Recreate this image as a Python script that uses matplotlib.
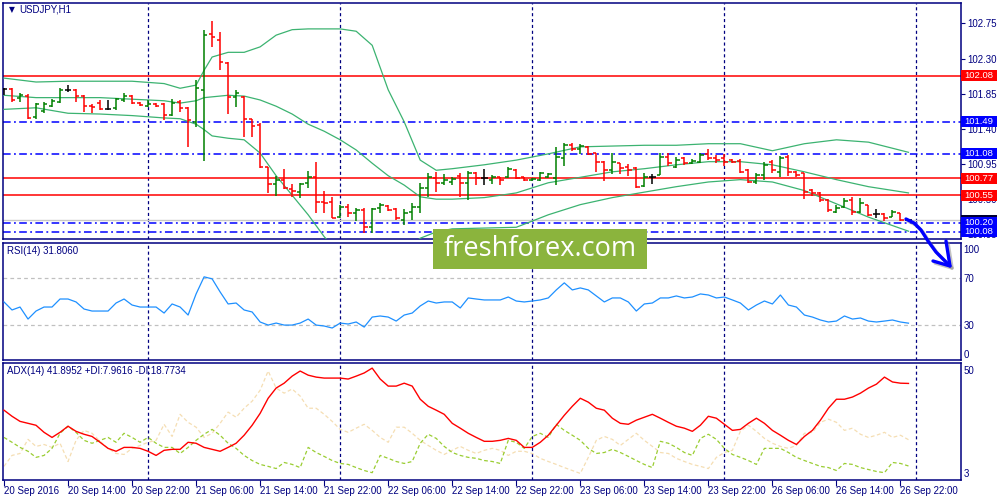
import matplotlib
matplotlib.use('Agg')
import matplotlib.pyplot as plt
import matplotlib.transforms as mtrans
import matplotlib.patheffects as pe
from matplotlib.patches import Rectangle
from matplotlib.lines import Line2D

# USDJPY H1 bars, 20 Sep 06:00 .. 26 Sep 23:00
opens = [101.91, 101.91, 101.80, 101.82, 101.55, 101.63, 101.69, 101.74, 101.90, 101.90,
         101.82, 101.69, 101.73, 101.65, 101.67, 101.77, 101.82, 101.73, 101.69, 101.72,
         101.72, 101.58, 101.74, 101.67, 101.49, 101.90, 102.61, 102.54, 102.24, 101.81,
         101.81, 101.53, 101.45, 100.91, 100.69, 100.75, 100.63, 100.59, 100.71, 100.78,
         100.46, 100.46, 100.27, 100.40, 100.32, 100.36, 100.14, 100.39, 100.41, 100.38,
         100.23, 100.34, 100.40, 100.64, 100.77, 100.71, 100.72, 100.80, 100.71, 100.84,
         100.77, 100.75, 100.78, 100.78, 100.87, 100.78, 100.75, 100.75, 100.78, 100.77,
         101.03, 101.19, 101.14, 101.17, 101.09, 100.98, 100.87, 100.96, 100.91, 100.90,
         100.67, 100.78, 100.81, 101.04, 100.91, 101.03, 100.96, 100.98, 101.08, 101.03,
         101.03, 101.00, 100.99, 100.87, 100.72, 100.81, 100.98, 100.85, 101.04, 100.85,
         100.84, 100.62, 100.58, 100.49, 100.34, 100.40, 100.49, 100.34, 100.43, 100.31,
         100.31, 100.27, 100.32, 100.23]
highs = [101.92, 101.92, 101.86, 101.85, 101.73, 101.74, 101.78, 101.92, 101.96, 101.91,
         101.83, 101.72, 101.77, 101.77, 101.80, 101.86, 101.83, 101.74, 101.77, 101.73,
         101.73, 101.78, 101.77, 101.68, 102.03, 102.67, 102.78, 102.64, 102.26, 101.90,
         101.82, 101.53, 101.48, 100.91, 100.80, 100.89, 100.69, 100.71, 100.86, 100.98,
         100.60, 100.53, 100.43, 100.44, 100.39, 100.39, 100.39, 100.45, 100.43, 100.39,
         100.37, 100.45, 100.71, 100.84, 100.85, 100.82, 100.78, 100.84, 100.86, 100.85,
         100.89, 100.81, 100.78, 100.91, 100.89, 100.78, 100.77, 100.85, 100.84, 101.17,
         101.22, 101.22, 101.21, 101.18, 101.09, 100.99, 101.09, 100.96, 100.95, 100.91,
         100.84, 100.82, 101.09, 101.09, 101.04, 101.04, 101.01, 101.09, 101.14, 101.07,
         101.08, 101.01, 101.01, 100.89, 100.84, 100.98, 101.00, 101.05, 101.07, 100.86,
         100.84, 100.63, 100.59, 100.50, 100.43, 100.52, 100.53, 100.52, 100.43, 100.37,
         100.32, 100.36, 100.32, 100.24]
lows = [101.83, 101.74, 101.74, 101.53, 101.53, 101.60, 101.68, 101.73, 101.87, 101.74,
        101.62, 101.60, 101.64, 101.64, 101.64, 101.74, 101.72, 101.69, 101.68, 101.68,
        101.51, 101.57, 101.62, 101.17, 101.42, 100.99, 102.45, 102.15, 101.59, 101.68,
        101.30, 101.30, 100.90, 100.58, 100.54, 100.63, 100.53, 100.52, 100.64, 100.32,
        100.32, 100.26, 100.26, 100.27, 100.22, 100.07, 100.07, 100.32, 100.35, 100.23,
        100.17, 100.23, 100.32, 100.53, 100.59, 100.68, 100.68, 100.53, 100.49, 100.68,
        100.68, 100.70, 100.68, 100.77, 100.76, 100.73, 100.73, 100.73, 100.77, 100.68,
        100.93, 101.12, 101.08, 101.07, 100.85, 100.73, 100.82, 100.82, 100.80, 100.64,
        100.66, 100.70, 100.81, 100.93, 100.90, 100.94, 100.95, 100.96, 101.00, 100.96,
        100.93, 100.96, 100.84, 100.71, 100.69, 100.75, 100.84, 100.78, 100.80, 100.78,
        100.50, 100.54, 100.46, 100.34, 100.32, 100.39, 100.30, 100.32, 100.29, 100.26,
        100.22, 100.27, 100.22, 100.22]
closes = [101.91, 101.77, 101.83, 101.54, 101.72, 101.72, 101.76, 101.90, 101.90, 101.82,
          101.69, 101.68, 101.65, 101.65, 101.78, 101.82, 101.73, 101.71, 101.72, 101.69,
          101.58, 101.73, 101.67, 101.51, 101.92, 102.60, 102.58, 102.26, 101.81, 101.86,
          101.53, 101.44, 100.91, 100.69, 100.75, 100.64, 100.60, 100.69, 100.78, 100.46,
          100.45, 100.26, 100.40, 100.32, 100.36, 100.14, 100.37, 100.43, 100.36, 100.26,
          100.32, 100.40, 100.64, 100.78, 100.71, 100.75, 100.76, 100.71, 100.84, 100.77,
          100.77, 100.78, 100.75, 100.89, 100.77, 100.75, 100.76, 100.84, 100.82, 101.04,
          101.19, 101.14, 101.18, 101.08, 100.98, 100.87, 100.98, 100.90, 100.87, 100.66,
          100.78, 100.78, 101.04, 100.96, 101.00, 100.96, 100.99, 101.07, 101.03, 101.00,
          100.98, 100.98, 100.85, 100.72, 100.81, 100.94, 100.87, 101.03, 100.85, 100.81,
          100.59, 100.58, 100.49, 100.36, 100.39, 100.48, 100.34, 100.45, 100.30, 100.31,
          100.26, 100.34, 100.23, 100.23]

# Bollinger bands read at these bar numbers
band_idx = [0, 4, 8, 12, 16, 20, 22, 24, 25, 26, 28, 30, 32, 34, 36, 38, 40, 42, 44, 46,
            48, 50, 52, 54, 56, 60, 64, 68, 72, 76, 80, 84, 88, 92, 96, 100, 104, 108, 113]
band_up = [102.05, 102.00, 102.01, 102.01, 102.01, 101.98, 101.92, 101.96, 102.15, 102.32,
           102.38, 102.38, 102.45, 102.60, 102.67, 102.68, 102.68, 102.68, 102.65, 102.47,
           101.90, 101.49, 101.00, 100.87, 100.89, 100.94, 101.00, 101.08, 101.17, 101.18,
           101.19, 101.19, 101.21, 101.21, 101.12, 101.21, 101.26, 101.23, 101.10]
band_mid = [101.83, 101.80, 101.80, 101.80, 101.78, 101.76, 101.73, 101.76, 101.80, 101.81,
            101.83, 101.82, 101.77, 101.69, 101.59, 101.46, 101.37, 101.26, 101.13, 100.96,
            100.80, 100.68, 100.53, 100.50, 100.50, 100.52, 100.58, 100.71, 100.78, 100.85,
            100.89, 100.94, 100.98, 100.98, 100.94, 100.85, 100.75, 100.66, 100.58]
band_low = [101.65, 101.67, 101.60, 101.59, 101.57, 101.54, 101.53, 101.46, 101.39, 101.31,
            101.28, 101.26, 101.09, 100.80, 100.55, 100.30, 100.02, 99.79, 99.70, 99.65,
            99.70, 99.82, 100.00, 100.08, 100.12, 100.13, 100.14, 100.30, 100.43, 100.52,
            100.59, 100.66, 100.72, 100.75, 100.72, 100.61, 100.44, 100.27, 100.09]

rsi = [49.8, 43.0, 45.5, 35.3, 42.1, 45.5, 45.5, 52.3, 52.3, 49.8,
       43.8, 42.1, 42.1, 42.1, 48.9, 52.3, 47.2, 45.5, 45.5, 45.5,
       40.4, 48.1, 45.5, 38.7, 56.6, 71.1, 69.4, 58.3, 48.1, 48.9,
       43.0, 41.3, 32.8, 30.2, 31.9, 30.2, 30.2, 31.9, 35.3, 30.2,
       29.4, 27.7, 31.9, 31.1, 32.8, 28.5, 37.0, 37.9, 37.0, 33.6,
       38.7, 40.4, 46.4, 50.6, 48.9, 49.8, 49.8, 44.7, 53.2, 52.3,
       51.5, 51.5, 51.5, 54.0, 50.6, 49.8, 50.6, 51.5, 53.2, 60.0,
       66.0, 60.0, 61.7, 60.0, 54.9, 49.8, 53.2, 53.2, 49.8, 42.1,
       48.1, 48.9, 53.2, 53.2, 54.9, 53.2, 54.0, 56.6, 55.7, 53.2,
       54.0, 51.5, 48.9, 43.0, 47.2, 50.6, 48.1, 55.7, 47.2, 45.5,
       38.7, 37.0, 34.5, 32.8, 33.6, 37.9, 35.3, 36.2, 33.6, 32.8,
       33.6, 34.5, 32.8, 31.81]

adx = [30.9, 28.4, 26.3, 25.5, 24.7, 21.8, 19.7, 21.8, 24.3, 22.2,
       21.0, 20.1, 17.7, 15.2, 14.0, 15.6, 15.6, 15.2, 14.0, 12.3,
       14.4, 14.8, 14.8, 17.7, 17.3, 15.6, 14.8, 14.0, 15.6, 17.3,
       20.6, 24.7, 29.6, 35.8, 40.0, 42.0, 44.9, 47.0, 45.3, 44.5,
       44.1, 44.1, 44.1, 43.7, 44.9, 46.2, 48.2, 43.7, 40.8, 40.8,
       42.0, 40.8, 35.4, 32.5, 30.9, 29.2, 25.5, 23.5, 21.4, 19.7,
       18.1, 18.1, 18.5, 19.3, 18.5, 15.6, 15.6, 17.7, 20.6, 24.7,
       28.8, 32.5, 35.8, 34.2, 31.7, 30.9, 27.6, 25.5, 25.1, 26.8,
       28.0, 29.2, 27.6, 25.9, 24.3, 23.5, 22.2, 24.7, 28.4, 27.6,
       25.1, 22.6, 23.0, 25.5, 27.6, 25.5, 22.6, 20.6, 18.5, 16.8,
       20.1, 22.6, 26.8, 31.7, 35.4, 35.4, 36.3, 37.9, 40.0, 41.6,
       44.5, 42.5, 42.0, 41.9]
plus_di = [19.7, 17.7, 15.6, 14.0, 11.5, 12.3, 15.2, 21.4, 24.3, 21.8,
           18.5, 17.3, 18.5, 19.7, 17.7, 21.4, 19.7, 17.7, 19.7, 17.3,
           15.6, 15.6, 13.1, 15.6, 18.5, 21.0, 23.0, 20.6, 17.3, 15.2,
           12.3, 10.2, 8.6, 7.8, 6.9, 9.4, 8.6, 7.3, 15.6, 13.5,
           11.9, 10.2, 9.0, 8.6, 7.3, 6.1, 5.2, 12.3, 11.1, 9.8,
           9.0, 9.8, 17.3, 21.0, 19.3, 16.0, 13.5, 12.3, 11.5, 11.1,
           10.2, 9.8, 9.0, 18.5, 17.7, 15.2, 20.1, 21.4, 19.7, 25.1,
           22.6, 20.6, 18.5, 15.2, 13.1, 13.5, 14.8, 13.5, 11.9, 10.2,
           8.6, 7.3, 18.1, 17.3, 15.6, 13.5, 12.3, 19.3, 21.0, 18.9,
           15.2, 12.7, 11.5, 10.2, 8.6, 15.2, 15.2, 15.2, 13.5, 11.5,
           10.2, 9.0, 7.8, 7.3, 6.1, 9.0, 8.6, 7.3, 6.5, 5.7,
           5.2, 9.4, 9.0, 7.96]
minus_di = [7.8, 12.3, 13.1, 18.9, 16.0, 16.8, 15.6, 17.3, 9.8, 18.5,
            22.6, 21.4, 18.1, 15.2, 13.1, 12.7, 15.2, 16.4, 17.7, 18.5,
            25.1, 20.1, 29.2, 25.9, 23.9, 19.7, 21.4, 25.5, 30.1, 28.0,
            31.7, 34.6, 39.1, 47.0, 40.0, 37.9, 39.6, 36.7, 31.7, 31.7,
            29.2, 26.3, 23.0, 21.8, 23.5, 25.1, 22.6, 19.7, 17.7, 23.9,
            23.9, 21.4, 18.5, 16.4, 14.4, 12.7, 14.4, 16.0, 14.4, 13.1,
            14.4, 15.2, 14.4, 12.3, 14.0, 14.0, 13.1, 11.1, 9.8, 8.6,
            7.3, 6.1, 4.9, 11.5, 18.5, 20.1, 18.9, 16.4, 18.9, 21.4,
            18.5, 16.0, 13.5, 13.1, 11.1, 9.8, 8.6, 7.8, 6.9, 11.5,
            13.5, 14.4, 22.2, 24.7, 22.2, 19.3, 17.3, 16.0, 15.2, 16.4,
            21.4, 21.8, 25.9, 27.2, 25.9, 22.6, 23.5, 21.0, 19.7, 20.6,
            21.8, 19.7, 20.6, 18.77]

red_levels = [102.08, 100.77, 100.55]
blue_levels = [101.49, 101.08, 100.20, 100.08]
bid = 100.23
price_ticks = [102.75, 102.30, 101.85, 101.40, 100.95, 100.50, 100.05]
day_breaks = [18, 42, 66, 90, 114]
time_idx = [0, 8, 16, 24, 32, 40, 48, 56, 64, 72, 80, 88, 96, 104, 112]
time_labels = ['20 Sep 2016', '20 Sep 14:00', '20 Sep 22:00', '21 Sep 06:00', '21 Sep 14:00',
               '21 Sep 22:00', '22 Sep 06:00', '22 Sep 14:00', '22 Sep 22:00', '23 Sep 06:00',
               '23 Sep 14:00', '23 Sep 22:00', '26 Sep 06:00', '26 Sep 14:00', '26 Sep 22:00']

NAVY = '#000080'
plt.rcParams['font.family'] = ['Liberation Sans', 'DejaVu Sans']

fig = plt.figure(figsize=(10, 5), dpi=100)
fig.patch.set_facecolor('white')


def panel(l, t, r, b):
    ax = fig.add_axes([l / 1000, 1 - b / 500, (r - l) / 1000, (b - t) / 500])
    for s in ax.spines.values():
        s.set_color(NAVY)
        s.set_linewidth(1.1)
    ax.set_xlim(-0.125, 119.5)
    ax.yaxis.tick_right()
    ax.tick_params(axis='y', colors=NAVY, labelcolor=NAVY, labelsize=7, length=3, width=0.8, pad=2)
    ax.tick_params(axis='x', bottom=False, labelbottom=False)
    for d in day_breaks:
        ax.axvline(d, color=NAVY, lw=0.9, dashes=(2.5, 2.2), zorder=1)
    return ax


main = panel(3, 2.5, 960.5, 239)
ax_rsi = panel(3, 243, 960.5, 359.5)
ax_adx = panel(3, 363, 960.5, 479.5)

# ---- main price panel
main.set_ylim(99.99, 103.018)
main.set_yticks(price_ticks)
main.set_yticklabels([f'{p:.2f}' for p in price_ticks])

for lv in red_levels:
    main.axhline(lv, color='#FF0000', lw=1.1, zorder=2)
for lv in blue_levels:
    main.axhline(lv, color='#0000FF', lw=1.1, dashes=(5, 2.2, 1.2, 2.2), zorder=2)
main.axhline(bid, color='#C8C8C8', lw=1.0, zorder=1.5)

main.plot(band_idx, band_up, color='#3CB371', lw=0.9, zorder=3)
main.plot(band_idx, band_mid, color='#3CB371', lw=0.9, zorder=3)
main.plot(band_idx, band_low, color='#3CB371', lw=0.9, zorder=3)

xs = list(range(len(opens)))
cols = []
for o, c in zip(opens, closes):
    if c > o:
        cols.append('#008000')
    elif c < o:
        cols.append('#FF0000')
    else:
        cols.append('#000000')
main.vlines(xs, lows, highs, colors=cols, lw=1.1, zorder=4)
main.hlines(opens, [x - 0.42 for x in xs], xs, colors=cols, lw=1.1, zorder=4)
main.hlines(closes, xs, [x + 0.42 for x in xs], colors=cols, lw=1.1, zorder=4)

# price labels on the right axis
blend = mtrans.blended_transform_factory(main.transAxes, main.transData)
box_w = 36 / 957.5
box_h = 11.0 / 78.1
tags = [(bid, '#000033')] + [(p, '#FF0000') for p in red_levels] + [(p, '#0000FF') for p in blue_levels]
for p, c in tags:
    main.add_patch(Rectangle((1.0006, p - box_h / 2), box_w, box_h, transform=blend,
                             facecolor=c, edgecolor='none', clip_on=False, zorder=6))
for p, c in tags[1:]:
    main.text(1.0006 + box_w / 2, p, f'{p:.2f}', transform=blend, ha='center', va='center',
              color='white', fontsize=6.8, clip_on=False, zorder=7)

main.text(0.0065, 0.972, '\u25BC', transform=main.transAxes, fontsize=5.5, color=NAVY,
          family=['DejaVu Sans'], va='center', ha='left')
main.text(0.0165, 0.972, 'USDJPY,H1', transform=main.transAxes, fontsize=7, color=NAVY,
          va='center', ha='left')

# ---- RSI panel
ax_rsi.set_ylim(1.0, 99.8)
ax_rsi.set_yticks([95, 70, 30, 6])
ax_rsi.set_yticklabels(['100', '70', '30', '0'])
ax_rsi.tick_params(axis='y', length=0)
ax_rsi.axhline(70, color='#C0C0C0', lw=0.9, dashes=(3, 2.5), zorder=1)
ax_rsi.axhline(30, color='#C0C0C0', lw=0.9, dashes=(3, 2.5), zorder=1)
ax_rsi.plot(xs, rsi, color='#1E90FF', lw=0.9, zorder=3)
ax_rsi.text(0.004, 0.93, 'RSI(14) 31.8060', transform=ax_rsi.transAxes, fontsize=7,
            color=NAVY, va='center', ha='left')

# ---- ADX panel
ax_adx.set_ylim(2.4, 50.3)
ax_adx.set_yticks([47.5, 5.0])
ax_adx.set_yticklabels(['50', '3'])
ax_adx.tick_params(axis='y', length=0)
ax_adx.plot(xs, minus_di, color='#F5DEB3', lw=0.9, dashes=(3, 2), zorder=2)
ax_adx.plot(xs, plus_di, color='#9ACD32', lw=0.9, dashes=(3, 2), zorder=2)
ax_adx.plot(xs, adx, color='#FF0000', lw=1.0, zorder=3)
ax_adx.text(0.004, 0.93, 'ADX(14) 41.8952 +DI:7.9616 -DI:18.7734', transform=ax_adx.transAxes,
            fontsize=7, color=NAVY, va='center', ha='left')

ax_adx.tick_params(axis='x', bottom=True, labelbottom=True, colors=NAVY, labelcolor=NAVY,
                   length=4, width=0.8, pad=1, labelsize=7)
ax_adx.set_xticks(time_idx)
ax_adx.set_xticklabels(time_labels)
for lb in ax_adx.get_xticklabels():
    lb.set_ha('left')
    lb.set_family(['Liberation Sans Narrow', 'Liberation Sans'])


# ---- overlays in figure pixels (logo and hand drawn arrow)
def fx(x):
    return x / 1000


def fy(y):
    return 1 - y / 500


fig.add_artist(Rectangle((fx(433), fy(269)), 214 / 1000, 40 / 500, transform=fig.transFigure,
                         facecolor='#8BB43D', edgecolor='none', zorder=20))
fig.text(fx(540), fy(249), 'freshforex.com', color='white', fontsize=19.5, family=['Open Sans'],
         ha='center', va='center', zorder=21)

arrow_x = [906, 914, 921, 928, 936, 944, 950]
arrow_y = [219, 223, 230, 241, 252, 260, 266]
shadow = [pe.SimpleLineShadow(offset=(1.5, -1.5), shadow_color='#888888', alpha=0.5), pe.Normal()]
fig.add_artist(Line2D([fx(x) for x in arrow_x], [fy(y) for y in arrow_y], transform=fig.transFigure,
                      color='#0000FF', lw=2.4, solid_capstyle='round', path_effects=shadow, zorder=22))
fig.add_artist(Line2D([fx(933), fx(950), fx(946)], [fy(261), fy(266), fy(241)],
                      transform=fig.transFigure, color='#0000FF', lw=2.4, solid_capstyle='round',
                      solid_joinstyle='round', path_effects=shadow, zorder=22))

fig.savefig('out.png', dpi=100)
